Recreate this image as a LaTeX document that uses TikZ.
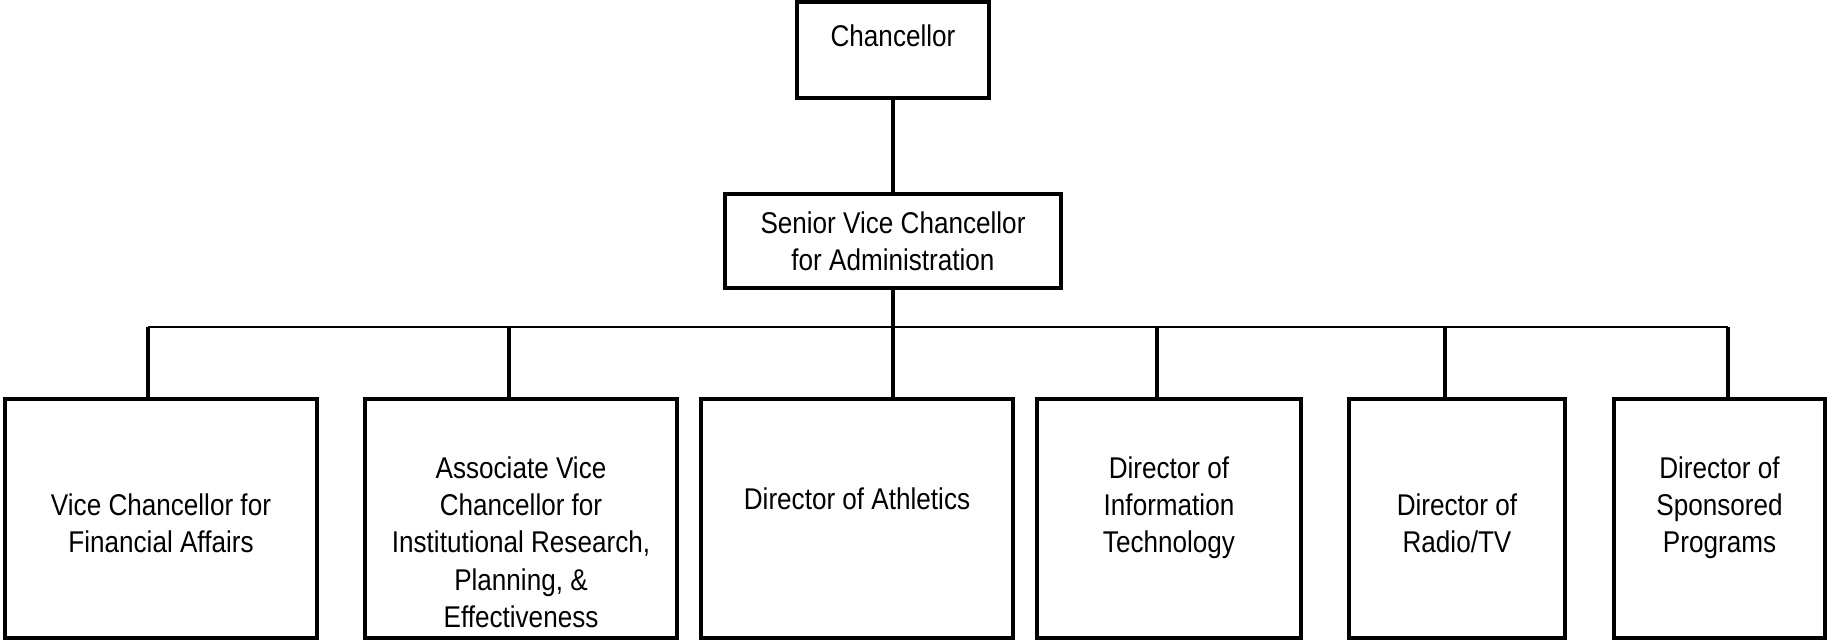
\documentclass[tikz,border=0pt]{standalone}
\usepackage{fontspec}
\setmainfont[FakeStretch=0.87]{Liberation Sans}
\usetikzlibrary{calc}
\begin{document}
\begin{tikzpicture}[x=1pt,y=-1pt,
  box/.style={draw, line width=4pt, inner sep=0pt},
  txt/.style={align=center, font=\fontsize{30}{37.3}\selectfont, inner sep=0pt},
  conn/.style={line width=4pt},
  bus/.style={line width=1.8pt}]
\useasboundingbox (0,0) rectangle (1829,640);
% boxes
\node[box, minimum width=192pt, minimum height=96pt] (top) at (893,50) {};
\node[box, minimum width=336pt, minimum height=94pt] (mid) at (893,241) {};
\node[box, minimum width=312pt, minimum height=239pt] (b1) at (161,518.5) {};
\node[box, minimum width=312pt, minimum height=239pt] (b2) at (521,518.5) {};
\node[box, minimum width=312pt, minimum height=239pt] (b3) at (857,518.5) {};
\node[box, minimum width=264pt, minimum height=239pt] (b4) at (1169,518.5) {};
\node[box, minimum width=216pt, minimum height=239pt] (b5) at (1457,518.5) {};
\node[box, minimum width=211pt, minimum height=239pt] (b6) at (1719.5,518.5) {};
% texts
\node[txt] (ttop) at (893,39) {Chancellor\strut};
\node[txt] (tmid) at (893,244.5) {Senior Vice Chancellor\strut\\for Administration\strut};
\node[txt] (t1) at (161,526.5) {Vice Chancellor for\strut\\Financial Affairs\strut};
\node[txt] (t2) at (521,545.5) {Associate Vice\strut\\Chancellor for\strut\\Institutional Research,\strut\\Planning, \&\strut\\Effectiveness\strut};
\node[txt] (t3) at (857,502) {Director of Athletics\strut};
\node[txt] (t4) at (1169,508) {Director of\strut\\Information\strut\\Technology\strut};
\node[txt] (t5) at (1457,526.5) {Director of\strut\\Radio/TV\strut};
\node[txt] (t6) at (1719.5,508) {Director of\strut\\Sponsored\strut\\Programs\strut};
% bus coordinates
\coordinate (d1) at (148,327);
\coordinate (d2) at (509,327);
\coordinate (d4) at (1157,327);
\coordinate (d5) at (1445,327);
\coordinate (d6) at (1728,327);
% connectors
\draw[conn] (top.south) -- (mid.north);
\draw[conn] (mid.south) -- (mid.south |- b3.north);
\draw[bus] (d1) -- (d6);
\draw[conn] (d1) -- (d1 |- b1.north);
\draw[conn] (d2) -- (d2 |- b2.north);
\draw[conn] (d4) -- (d4 |- b4.north);
\draw[conn] (d5) -- (d5 |- b5.north);
\draw[conn] (d6) -- (d6 |- b6.north);
\end{tikzpicture}
\end{document}
